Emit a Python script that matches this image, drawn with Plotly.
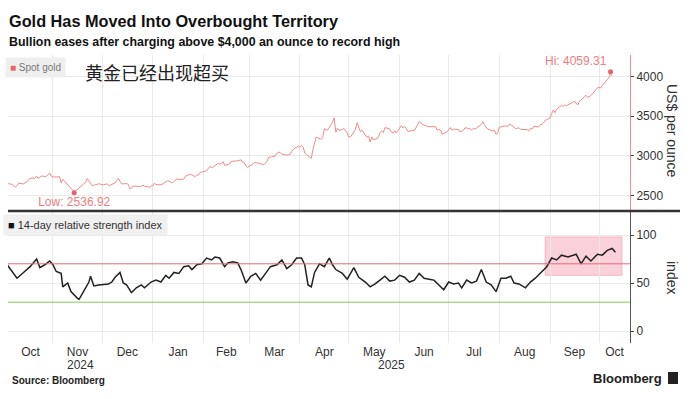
import pandas as pd
import plotly.graph_objects as go

# ---------------- text ----------------
title = "Gold Has Moved Into Overbought Territory"
subtitle = "Bullion eases after charging above $4,000 an ounce to record high"
note_cn = "黄金已经出现超买"
gold_name = "Spot gold"
rsi_name = "14-day relative strength index"
source = "Source: Bloomberg"
brand = "Bloomberg"
gold_axis_title = "US$ per ounce"
rsi_axis_title = "index"

# ---------------- data ----------------
gold_start, gold_end = "2024-10-04", "2025-10-09"   # business days
gold_close = [
    # Oct 2024
    2653, 2644, 2622, 2608, 2630, 2657, 2649, 2662, 2674, 2692, 2721, 2720, 2748, 2714, 2736, 2747, 2743, 2774, 2788, 2744,
    # Nov 2024
    2736, 2736, 2742, 2659, 2707, 2685, 2619, 2598, 2573, 2545, 2563, 2612, 2631, 2650, 2669, 2715, 2625, 2633, 2638, 2640, 2650,
    # Dec 2024
    2637, 2643, 2650, 2632, 2633, 2660, 2694, 2718, 2680, 2648, 2652, 2646, 2587, 2594, 2622, 2612, 2617, 2617, 2634, 2621, 2606, 2624,
    # Jan 2025
    2624, 2658, 2640, 2636, 2648, 2662, 2670, 2689, 2663, 2677, 2697, 2714, 2703, 2708, 2745, 2755, 2755, 2771, 2740, 2763, 2760, 2794, 2798,
    # Feb 2025
    2815, 2842, 2867, 2856, 2861, 2908, 2898, 2904, 2929, 2883, 2899, 2935, 2933, 2939, 2936, 2951, 2916, 2917, 2876, 2858,
    # Mar 2025
    2893, 2918, 2920, 2911, 2910, 2889, 2917, 2934, 2987, 2984, 3001, 3034, 3048, 3044, 3023, 3011, 3020, 3019, 3057, 3085, 3124,
    # Apr 2025
    3113, 3133, 3114, 3037, 2982, 2970, 3082, 3175, 3237, 3211, 3230, 3343, 3327, 3327, 3425, 3480, 3300, 3349, 3319, 3344, 3317, 3288,
    # May 2025
    3238, 3241, 3334, 3420, 3365, 3306, 3325, 3236, 3249, 3177, 3240, 3203, 3230, 3290, 3315, 3294, 3357, 3342, 3300, 3288, 3318, 3289,
    # Jun 2025
    3381, 3353, 3374, 3352, 3310, 3326, 3323, 3355, 3386, 3432, 3385, 3388, 3370, 3369, 3368, 3368, 3323, 3333, 3328, 3274, 3303,
    # Jul 2025
    3338, 3357, 3326, 3337, 3335, 3302, 3313, 3324, 3355, 3344, 3324, 3347, 3339, 3350, 3397, 3431, 3387, 3368, 3337, 3314, 3326, 3275, 3289,
    # Aug 2025
    3363, 3373, 3381, 3369, 3397, 3398, 3342, 3348, 3356, 3335, 3336, 3332, 3315, 3348, 3339, 3371, 3366, 3393, 3397, 3416, 3448,
    # Sep 2025
    3477, 3533, 3578, 3545, 3587, 3636, 3626, 3641, 3634, 3643, 3679, 3690, 3660, 3644, 3685, 3746, 3764, 3736, 3749, 3760, 3833, 3859,
    # Oct 2025
    3866, 3857, 3886, 3961, 3985, 4040, 4005,
]

rsi_dates = [
    "2024-10-04", "2024-10-10", "2024-10-14", "2024-10-18", "2024-10-22", "2024-10-24", "2024-10-27", "2024-10-30",
    "2024-11-01", "2024-11-03", "2024-11-06", "2024-11-07", "2024-11-10", "2024-11-12", "2024-11-16", "2024-11-17",
    "2024-11-20", "2024-11-23", "2024-11-24", "2024-11-26", "2024-11-29",
    "2024-12-05", "2024-12-07", "2024-12-09", "2024-12-12", "2024-12-14", "2024-12-16", "2024-12-19", "2024-12-22",
    "2024-12-25", "2024-12-27", "2024-12-31",
    "2025-01-03", "2025-01-06", "2025-01-09", "2025-01-11", "2025-01-14", "2025-01-17", "2025-01-20", "2025-01-23",
    "2025-01-25", "2025-01-28", "2025-01-31",
    "2025-02-03", "2025-02-06", "2025-02-08", "2025-02-11", "2025-02-14", "2025-02-16", "2025-02-19", "2025-02-22",
    "2025-02-24", "2025-02-27",
    "2025-03-02", "2025-03-05", "2025-03-08", "2025-03-11", "2025-03-14", "2025-03-18", "2025-03-21", "2025-03-24",
    "2025-03-27", "2025-03-30",
    "2025-04-02", "2025-04-04", "2025-04-06", "2025-04-08", "2025-04-10", "2025-04-13", "2025-04-16", "2025-04-19",
    "2025-04-21", "2025-04-23", "2025-04-27", "2025-04-30",
    "2025-05-04", "2025-05-07", "2025-05-11", "2025-05-14", "2025-05-17", "2025-05-20", "2025-05-23", "2025-05-26",
    "2025-05-29",
    "2025-06-01", "2025-06-04", "2025-06-07", "2025-06-10", "2025-06-13", "2025-06-16", "2025-06-19", "2025-06-22",
    "2025-06-25", "2025-06-28",
    "2025-07-01", "2025-07-04", "2025-07-07", "2025-07-09", "2025-07-12", "2025-07-15", "2025-07-18", "2025-07-21",
    "2025-07-24", "2025-07-27", "2025-07-30",
    "2025-08-02", "2025-08-05", "2025-08-08", "2025-08-10", "2025-08-13", "2025-08-17", "2025-08-20", "2025-08-23",
    "2025-08-26", "2025-08-30",
    "2025-09-02", "2025-09-05", "2025-09-08", "2025-09-12", "2025-09-17", "2025-09-20", "2025-09-23", "2025-09-26",
    "2025-09-30",
    "2025-10-03", "2025-10-06", "2025-10-09", "2025-10-11",
]
rsi_values = [
    69, 55, 61, 67, 75, 66, 69, 73,
    69, 62, 60, 46, 50, 41, 34, 33, 42, 51, 57, 47, 48,
    49, 51, 56, 61, 50, 48, 40, 45, 48, 45, 51,
    53, 51, 58, 55, 61, 60, 67, 68, 64, 69, 70,
    76, 74, 77, 76, 67, 71, 72, 71, 64, 50,
    57, 60, 53, 60, 67, 69, 74, 65, 69, 76,
    76, 69, 48, 46, 61, 70, 67, 76, 69, 64, 60, 54,
    66, 56, 51, 46, 49, 53, 57, 52, 53,
    58, 56, 51, 53, 60, 55, 54, 53, 48, 43,
    51, 49, 50, 45, 53, 50, 52, 64, 51, 48, 41,
    55, 55, 57, 50, 49, 45, 51, 55, 60, 67,
    76, 74, 79, 77, 80, 70, 78, 73, 80,
    79, 84, 86, 82,
]

hi_date, hi_value = "2025-10-08", 4059.31
lo_date, lo_value = "2024-11-14", 2536.92
overbought, oversold = 70, 30
hl_start, hl_end, hl_low, hl_high = "2025-08-29", "2025-10-15", 58, 98
gold_ticks = [2500, 3000, 3500, 4000]
rsi_ticks = [0, 50, 100]

# ---------------- layout constants ----------------
W, H = 693, 399
L, R, T, B = 8, 630, 55, 343
x_range = [pd.Timestamp("2024-10-04 12:00"), pd.Timestamp("2025-10-19 22:00")]
gold_range = [2321, 4271]
rsi_range = [-12.5, 124]

FONT = "Liberation Sans, Arial, sans-serif"
GOLD = "#ee8c8c"
GOLD_TXT = "#ef7d7d"
GRID = "#e9e9e9"

def px(x):
    return (x - L) / (R - L)

def py(y):
    return (B - y) / (B - T)

gold_dates = pd.bdate_range(gold_start, gold_end)
assert len(gold_dates) == len(gold_close), (len(gold_dates), len(gold_close))
assert len(rsi_dates) == len(rsi_values)

# month grid and period-centred labels
month_starts = pd.date_range("2024-10-01", "2025-10-01", freq="MS")
label_pos, label_txt = [], []
for m in month_starts:
    a = max(m, x_range[0])
    b = min(m + pd.offsets.MonthBegin(1), x_range[1])
    label_pos.append(a + (b - a) / 2)
    label_txt.append(m.strftime("%b"))
year_pos = []
for yr in [2024, 2025]:
    a = max(pd.Timestamp(f"{yr}-01-01"), x_range[0])
    b = min(pd.Timestamp(f"{yr + 1}-01-01"), x_range[1])
    year_pos.append((str(yr), a + (b - a) / 2))

fig = go.Figure()

fig.add_trace(go.Scatter(x=gold_dates, y=gold_close, mode="lines",
                         line=dict(color=GOLD, width=1), xaxis="x", yaxis="y",
                         hoverinfo="skip", showlegend=False))
fig.add_trace(go.Scatter(x=[hi_date], y=[hi_value], mode="markers+text",
                         text=[f"Hi: {hi_value:.2f}"], textposition="top left",
                         textfont=dict(family=FONT, size=12, color=GOLD_TXT),
                         marker=dict(color="#e8606a", size=5), xaxis="x", yaxis="y",
                         showlegend=False, cliponaxis=False))
fig.add_trace(go.Scatter(x=[lo_date], y=[lo_value], mode="markers+text",
                         text=[f"Low: {lo_value:.2f}"], textposition="bottom center",
                         textfont=dict(family=FONT, size=12, color=GOLD_TXT),
                         marker=dict(color="#e8606a", size=5), xaxis="x", yaxis="y",
                         showlegend=False, cliponaxis=False))
fig.add_trace(go.Scatter(x=pd.to_datetime(rsi_dates), y=rsi_values, mode="lines",
                         line=dict(color="#222222", width=1.5), xaxis="x2", yaxis="y2",
                         hoverinfo="skip", showlegend=False))

minor_grid = dict(tickvals=list(month_starts), showgrid=True, gridcolor=GRID, gridwidth=1, ticks="")
fig.update_layout(
    width=W, height=H,
    margin=dict(l=L, r=W - R, t=T, b=H - B),
    paper_bgcolor="white", plot_bgcolor="white",
    font=dict(family=FONT, size=12, color="#333"),
    hovermode=False,
    xaxis=dict(domain=[0, 1], anchor="y", range=x_range, showticklabels=False,
               tickvals=list(month_starts), showgrid=True, gridcolor=GRID, ticks="",
               zeroline=False, showline=False),
    xaxis2=dict(domain=[0, 1], anchor="y2", range=x_range, tickvals=label_pos, ticktext=label_txt,
                ticks="", showgrid=False, zeroline=False, showline=False, minor=minor_grid,
                tickfont=dict(family=FONT, size=12, color="#333")),
    yaxis=dict(domain=[0.462, 1], anchor="x", side="right", range=gold_range, tickvals=gold_ticks,
               showgrid=True, gridcolor=GRID, zeroline=False, showline=True, linecolor="#f08c8c",
               linewidth=1, ticks="outside", ticklen=3, tickcolor="#444",
               tickfont=dict(family=FONT, size=12, color="#333")),
    yaxis2=dict(domain=[0, 0.455], anchor="x2", side="right", range=rsi_range, tickvals=rsi_ticks,
                showgrid=True, gridcolor=GRID, zeroline=False, showline=True, linecolor="#555",
                linewidth=1, ticks="outside", ticklen=3, tickcolor="#444",
                tickfont=dict(family=FONT, size=12, color="#333")),
)

# overbought / oversold lines and highlight
fig.add_shape(type="rect", xref="x2", yref="y2", x0=hl_start, x1=hl_end, y0=hl_low, y1=hl_high,
              fillcolor="rgba(245,170,185,0.55)", line=dict(color="rgba(240,150,170,0.6)", width=1),
              layer="below")
fig.add_shape(type="line", xref="x2 domain", yref="y2", x0=0, x1=1, y0=overbought, y1=overbought,
              line=dict(color="#e8687a", width=1))
fig.add_shape(type="line", xref="x2 domain", yref="y2", x0=0, x1=1, y0=oversold, y1=oversold,
              line=dict(color="#8cc85a", width=1))
# panel separator
fig.add_shape(type="line", xref="paper", yref="paper", x0=0, x1=px(680), y0=py(211), y1=py(211),
              line=dict(color="#333", width=2.5))
# brand icon
fig.add_shape(type="rect", xref="paper", yref="paper", x0=px(668), x1=px(678), y0=py(384), y1=py(372),
              fillcolor="#222", line=dict(width=0))

ann = []
ann.append(dict(text=f"<b>{title}</b>", x=px(7), y=py(21), xanchor="left", yanchor="middle",
                font=dict(family=FONT, size=16.3, color="#111")))
ann.append(dict(text=f"<b>{subtitle}</b>", x=px(7), y=py(42), xanchor="left", yanchor="middle",
                font=dict(family=FONT, size=12.4, color="#111")))
ann.append(dict(text=f"<span style='color:#f0606a'>■</span> {gold_name}", x=px(5), y=py(68),
                xanchor="left", yanchor="middle", bgcolor="#efefef", borderpad=4,
                font=dict(family=FONT, size=10, color="#777")))
ann.append(dict(text=f"<span style='color:#111'>■</span> {rsi_name}", x=px(3), y=py(225),
                xanchor="left", yanchor="middle", bgcolor="#f0f0f0", borderpad=4,
                font=dict(family=FONT, size=11, color="#333")))
ann.append(dict(text=note_cn, x=px(83), y=py(72), xanchor="left", yanchor="middle",
                font=dict(family="Noto Sans CJK SC", size=18, color="#222")))
ann.append(dict(text=gold_axis_title, x=px(672), y=py(131), textangle=90, xanchor="center",
                yanchor="middle", font=dict(family=FONT, size=14, color="#333")))
ann.append(dict(text=rsi_axis_title, x=px(672), y=py(277), textangle=90, xanchor="center",
                yanchor="middle", font=dict(family=FONT, size=14, color="#333")))
for yr, pos in year_pos:
    ann.append(dict(text=yr, x=pos, xref="x2", y=py(365), yref="paper", xanchor="center",
                    yanchor="middle", showarrow=False, font=dict(family=FONT, size=12, color="#333")))
ann.append(dict(text=f"<b>{source}</b>", x=px(10), y=py(380), xanchor="left", yanchor="middle",
                font=dict(family=FONT, size=10, color="#222")))
ann.append(dict(text=f"<b>{brand}</b>", x=px(664), y=py(378), xanchor="right", yanchor="middle",
                font=dict(family=FONT, size=13, color="#222")))
for a in ann:
    a.setdefault("xref", "paper")
    a.setdefault("yref", "paper")
    a.setdefault("showarrow", False)
fig.update_layout(annotations=ann)

fig.write_html("out.html", config={"displayModeBar": False},
               post_script="document.body.style.margin='0';document.body.style.overflow='hidden';")
